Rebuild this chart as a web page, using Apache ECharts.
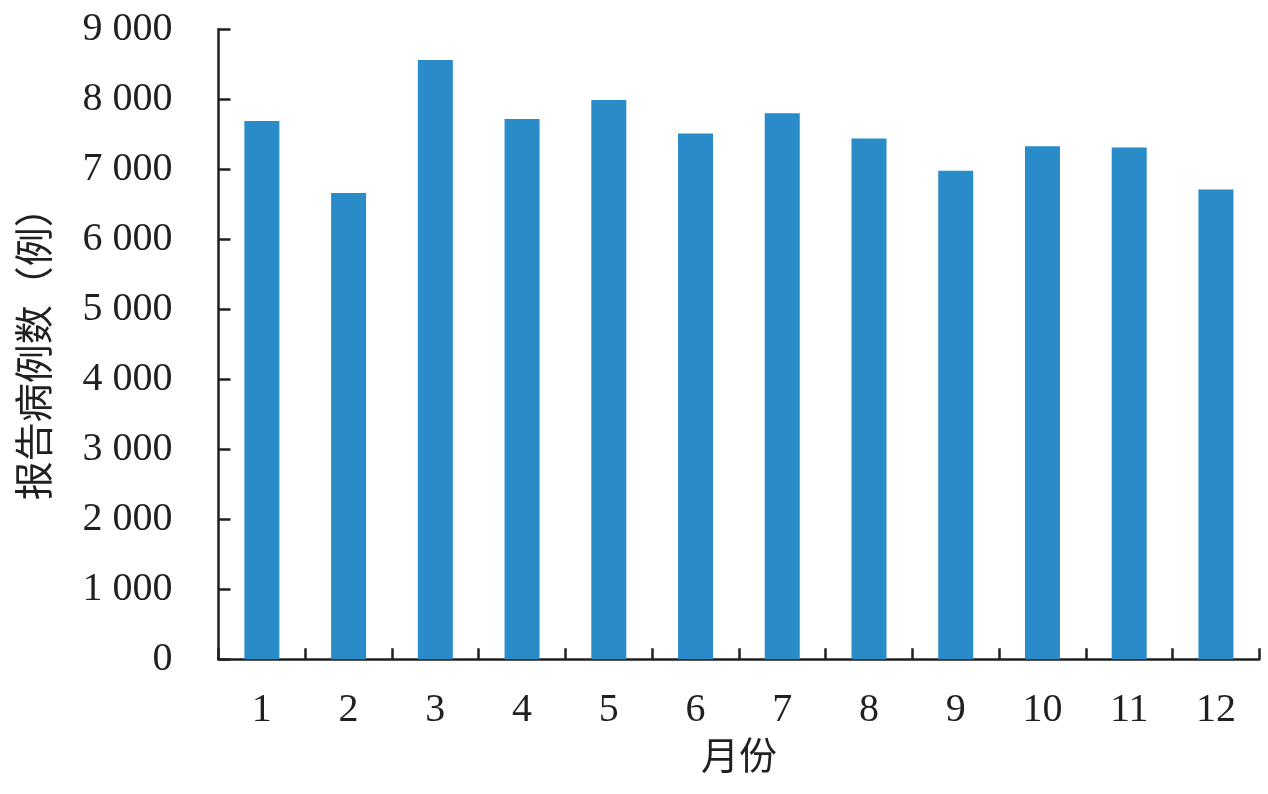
<!DOCTYPE html>
<html>
<head>
<meta charset="utf-8">
<script src="https://cdn.jsdelivr.net/npm/echarts@6/dist/echarts.min.js"></script>
<style>
html,body{margin:0;padding:0;background:#fff;}
#c{width:1268px;height:794px;}
</style>
</head>
<body>
<div id="c"></div>
<script>
const categories = ['1','2','3','4','5','6','7','8','9','10','11','12'];
const cases = [7690, 6660, 8560, 7720, 7990, 7510, 7800, 7440, 6980, 7330, 7310, 6710];
const yTicks = {min: 0, max: 9000, interval: 1000};
const xName = '月份';
const yName = '报告病例数（例）';

const axisColor = '#231f20';
const chart = echarts.init(document.getElementById('c'));
chart.setOption({
  animation: false,
  backgroundColor: '#ffffff',
  grid: {left: 218.5, right: 8.7, top: 29.3, bottom: 134.7, containLabel: false},
  xAxis: {
    type: 'category',
    data: categories,
    boundaryGap: true,
    name: xName,
    nameLocation: 'middle',
    nameGap: 76,
    nameTextStyle: {fontFamily: 'Noto Sans CJK SC', fontSize: 38, color: axisColor, verticalAlign: 'top'},
    axisLine: {lineStyle: {color: axisColor, width: 2.5}},
    axisTick: {show: true, inside: true, length: 11, lineStyle: {color: axisColor, width: 2.5}},
    axisLabel: {fontFamily: 'Liberation Serif', fontSize: 40, color: axisColor, margin: 31}
  },
  yAxis: {
    type: 'value',
    min: yTicks.min,
    max: yTicks.max,
    interval: yTicks.interval,
    name: yName,
    nameLocation: 'middle',
    nameGap: 166,
    nameRotate: 90,
    nameTextStyle: {fontFamily: 'Noto Sans CJK SC', fontSize: 39, color: axisColor},
    axisLine: {show: true, lineStyle: {color: axisColor, width: 2.5}},
    axisTick: {show: true, inside: true, length: 12, lineStyle: {color: axisColor, width: 2.5}},
    splitLine: {show: false},
    axisLabel: {
      fontFamily: 'Liberation Serif', fontSize: 40, color: axisColor, margin: 46,
      formatter: v => {
        const s = String(v);
        return s.length > 3 ? s.slice(0, s.length - 3) + ' ' + s.slice(-3) : s;
      }
    }
  },
  series: [{
    type: 'bar',
    data: cases,
    barWidth: 35,
    itemStyle: {color: '#298bc8'}
  }]
});
</script>
</body>
</html>
